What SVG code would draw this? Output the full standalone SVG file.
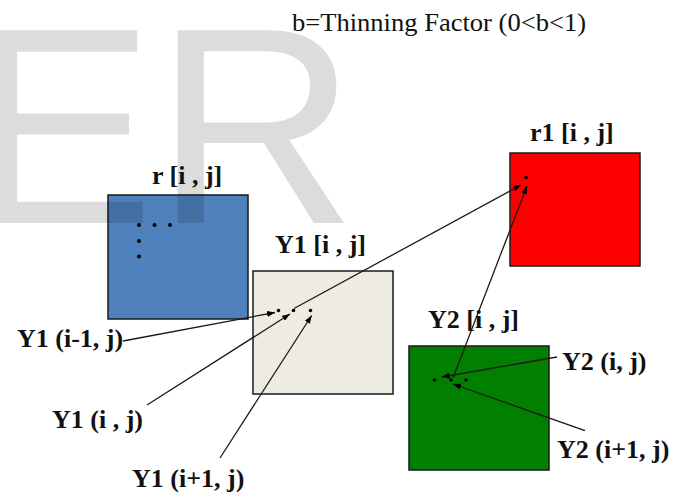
<svg xmlns="http://www.w3.org/2000/svg" width="682" height="492" viewBox="0 0 682 492">
  <style>
    .box { stroke: #1a1a1a; stroke-width: 1.5; }
    .lbl { font-family: "Liberation Serif", "Times New Roman", serif; font-weight: bold; font-size: 26px; fill: #111; }
    .title { font-family: "Liberation Serif", "Times New Roman", serif; font-size: 26px; fill: #111; }
    .wm { font-family: "Liberation Sans", Arial, sans-serif; font-size: 280px; fill: #000; fill-opacity: 0.137; }
    .dot { fill: #000; }
    .conn { stroke: #1a1a1a; stroke-width: 1.3; fill: none; marker-end: url(#arr); }
  </style>
  <defs>
    <marker id="arr" markerUnits="userSpaceOnUse" markerWidth="8" markerHeight="6" refX="8" refY="3" orient="auto">
      <path d="M0,0 L8,3 L0,6 z" fill="#000"/>
    </marker>
  </defs>
  <rect width="682" height="492" fill="#fff"/>

  <text class="title" x="292" y="31" textLength="294" lengthAdjust="spacingAndGlyphs">b=Thinning Factor (0&lt;b&lt;1)</text>

  <g id="node-r">
    <rect class="box" x="108" y="195" width="140" height="124" fill="#4f81bd"/>
    <circle class="dot" cx="139" cy="225" r="2"/>
    <circle class="dot" cx="154.5" cy="225" r="2"/>
    <circle class="dot" cx="170" cy="225" r="2"/>
    <circle class="dot" cx="139" cy="241" r="2"/>
    <circle class="dot" cx="139" cy="256.5" r="2"/>
  </g>

  <g id="node-y1">
    <rect class="box" x="253" y="271" width="140" height="123" fill="#eeece1"/>
    <circle class="dot" cx="278.5" cy="310.5" r="1.8"/>
    <circle class="dot" cx="293.5" cy="310.5" r="1.8"/>
    <circle class="dot" cx="310.5" cy="310.5" r="1.8"/>
  </g>

  <g id="node-r1">
    <rect class="box" x="510" y="153" width="130" height="113" fill="#ff0000"/>
    <circle class="dot" cx="526" cy="177.5" r="1.8"/>
  </g>

  <g id="node-y2">
    <rect class="box" x="409" y="346" width="140" height="124" fill="#007f00"/>
    <circle class="dot" cx="434.5" cy="380" r="1.8"/>
    <circle class="dot" cx="451" cy="380" r="1.8"/>
    <circle class="dot" cx="466" cy="380" r="1.8"/>
  </g>

  <text class="wm" x="-32" y="223">ER</text>

  <g id="titles">
    <text class="lbl" x="152" y="184">r [i , j]</text>
    <text class="lbl" x="275" y="253">Y1 [i , j]</text>
    <text class="lbl" x="530" y="141">r1 [i , j]</text>
    <text class="lbl" x="428" y="328">Y2 [i , j]</text>
  </g>

  <g id="label-y1-im1"><text class="lbl" x="17" y="347">Y1 (i-1, j)</text></g>
  <g id="label-y1-i"><text class="lbl" x="52" y="428">Y1 (i , j)</text></g>
  <g id="label-y1-ip1"><text class="lbl" x="132" y="487">Y1 (i+1, j)</text></g>
  <g id="label-y2-i"><text class="lbl" x="562" y="370">Y2 (i, j)</text></g>
  <g id="label-y2-ip1"><text class="lbl" x="557" y="458">Y2 (i+1, j)</text></g>

  <g id="connectors">
    <line class="conn" x1="123" y1="341" x2="275" y2="312.5"/>
    <line class="conn" x1="147" y1="405" x2="290" y2="314"/>
    <line class="conn" x1="220" y1="458" x2="311.7" y2="315.5"/>
    <line class="conn" x1="294" y1="308.5" x2="521" y2="185"/>
    <line class="conn" x1="453" y1="378" x2="527" y2="186"/>
    <line class="conn" x1="557" y1="357" x2="441.7" y2="377"/>
    <line class="conn" x1="585" y1="430.7" x2="453" y2="384"/>
  </g>
</svg>
